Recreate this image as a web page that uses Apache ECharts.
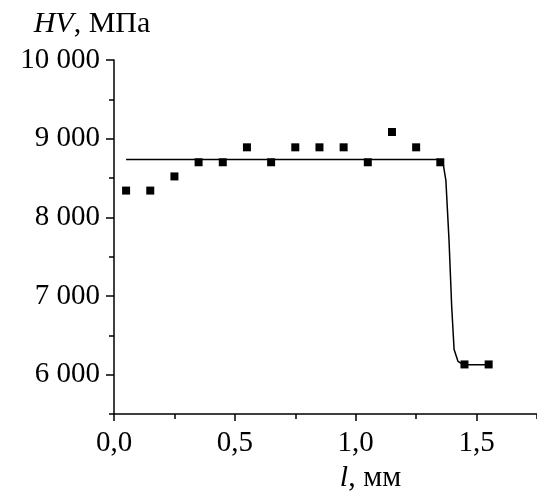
<!DOCTYPE html>
<html><head><meta charset="utf-8">
<script src="https://cdn.jsdelivr.net/npm/echarts@6/dist/echarts.min.js"></script>
<style>html,body{margin:0;padding:0;background:#fff}#c{width:537px;height:498px}</style>
</head><body><div id="c"></div>
<script>
// Measured points
const pointsX = [0.05, 0.15, 0.25, 0.35, 0.45, 0.55, 0.65, 0.75, 0.85, 0.95, 1.05, 1.15, 1.25, 1.35, 1.45, 1.55];
const pointsHV = [8340, 8340, 8520, 8700, 8700, 8890, 8700, 8890, 8890, 8890, 8700, 9085, 8890, 8700, 6130, 6130];
// Fitted curve
const fitX = [0.05, 1.34, 1.36, 1.373, 1.386, 1.397, 1.407, 1.423, 1.447, 1.55];
const fitHV = [8735, 8735, 8715, 8470, 7710, 6870, 6320, 6170, 6125, 6125];
// Ticks
const xMajorTicks = [0, 0.5, 1.0, 1.5];
const xMinorTicks = [0.25, 0.75, 1.25, 1.75];
const yMajorTicks = [6000, 7000, 8000, 9000, 10000];
const yMinorTicks = [5500, 6500, 7500, 8500, 9500];

const FONT = '"Liberation Serif", "Times New Roman", serif';
const fmtY = v => String(v).replace(/\B(?=(\d{3})+(?!\d))/g, ' ');
const fmtX = v => v.toFixed(1).replace('.', ',');

const chart = echarts.init(document.getElementById('c'), null, {renderer: 'canvas'});
const axisLineStyle = {color: '#000', width: 1.5};
chart.setOption({
  animation: false,
  backgroundColor: '#fff',
  grid: {left: 114, top: 60, right: 0, bottom: 84, containLabel: false},
  xAxis: [{
    type: 'value', min: 0, max: 1.75, position: 'bottom',
    axisLine: {show: true, lineStyle: axisLineStyle},
    axisTick: {show: true, inside: false, length: 7, customValues: xMajorTicks, lineStyle: {color: '#000', width: 1.5}},
    axisLabel: {customValues: xMajorTicks, formatter: fmtX, margin: 15, color: '#000', fontFamily: FONT, fontSize: 29},
    splitLine: {show: false},
    name: '{i|l}, мм', nameLocation: 'middle', nameGap: 47,
    nameTextStyle: {color: '#000', fontFamily: FONT, fontSize: 30, padding: [0, 0, 0, 90],
      rich: {i: {fontStyle: 'italic', fontFamily: FONT, fontSize: 30, color: '#000'}}}
  }, {
    type: 'value', min: 0, max: 1.75, position: 'bottom',
    axisLine: {show: false},
    axisTick: {show: true, inside: false, length: 5, customValues: xMinorTicks, lineStyle: {color: '#000', width: 1.5}},
    axisLabel: {show: false}, splitLine: {show: false}
  }],
  yAxis: [{
    type: 'value', min: 5500, max: 10000, position: 'left',
    axisLine: {show: true, lineStyle: axisLineStyle},
    axisTick: {show: true, inside: false, length: 8, customValues: yMajorTicks, lineStyle: {color: '#000', width: 1.5}},
    axisLabel: {customValues: yMajorTicks, formatter: fmtY, margin: 14, color: '#000', fontFamily: FONT, fontSize: 29},
    splitLine: {show: false},
    name: '{i|HV}, МПа', nameLocation: 'end', nameGap: 21,
    nameTextStyle: {color: '#000', fontFamily: FONT, fontSize: 30, padding: [0, 44, 0, 0],
      rich: {i: {fontStyle: 'italic', fontFamily: FONT, fontSize: 30, color: '#000'}}}
  }, {
    type: 'value', min: 5500, max: 10000, position: 'left',
    axisLine: {show: false},
    axisTick: {show: true, inside: false, length: 5, customValues: yMinorTicks, lineStyle: {color: '#000', width: 1.5}},
    axisLabel: {show: false}, splitLine: {show: false}
  }],
  series: [{
    type: 'line', xAxisIndex: 0, yAxisIndex: 0,
    data: fitX.map((x, i) => [x, fitHV[i]]),
    showSymbol: false, symbol: 'none', smooth: false,
    lineStyle: {color: '#000', width: 1.5}, z: 2
  }, {
    type: 'scatter', xAxisIndex: 0, yAxisIndex: 0,
    data: pointsX.map((x, i) => [x, pointsHV[i]]),
    symbol: 'rect', symbolSize: 8,
    itemStyle: {color: '#000', opacity: 1}, z: 3
  }]
});
</script></body></html>
